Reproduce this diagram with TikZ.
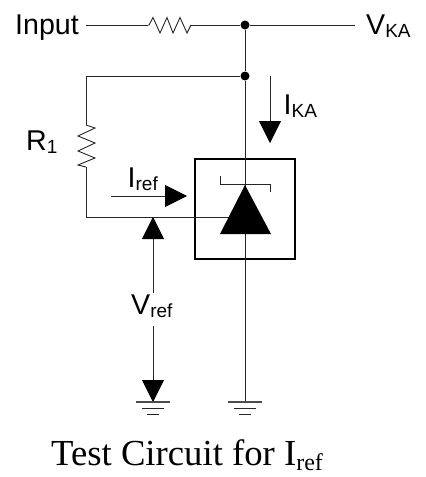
\documentclass[tikz,border=0pt]{standalone}
\usepackage{tikz}
\usepackage{fontspec}
\setmainfont{Liberation Serif}
\setsansfont{Liberation Sans}
\usetikzlibrary{arrows.meta}
\newcommand{\subtxt}[1]{\raisebox{-3.5pt}{\fontsize{19}{19}\selectfont #1}}

\begin{document}
\begin{tikzpicture}[x=1pt,y=-1pt]
        \tikzstyle{wire}=[line width=0.9pt,black!85]
        \tikzstyle{current}=[line width=0.9pt,black!85,-{Triangle[length=22pt,width=22pt,black]}]
        \tikzstyle{junction}=[circle,fill=black,inner sep=0pt,minimum size=9pt]
        \tikzstyle{label}=[inner sep=0pt,anchor=base west,font=\sffamily\fontsize{28.6}{28.6}\selectfont]
        \useasboundingbox (0,0) rectangle (426,477);
        % terminals and labels
        \node[label] (input) at (15,34) {Input};
        \node[label] (vka) at (366,34) {V\subtxt{KA}};
        \node[label] (ika) at (283.5,114) {I\subtxt{KA}};
        \node[label] (rone) at (26,150) {R\subtxt{1}};
        \node[label] (iref) at (127.5,187) {I\subtxt{ref}};
        \node[label] (vref) at (131,314) {V\subtxt{ref}};
        \node[inner sep=0pt,anchor=base west] (title) at (51,465) {\fontsize{36.7}{36.7}\selectfont Test Circuit for I\raisebox{-5pt}{\fontsize{24}{24}\selectfont ref}};
        % junctions
        \node[junction] (top) at (245,25) {};
        \node[junction] (mid) at (245,76) {};
        \coordinate (corner) at (86,76);
        \coordinate (knee) at (86,217.5);
        \coordinate (inputend) at (86,25);
        \coordinate (vkaend) at (355,25);
        \coordinate (rtopleft) at (148,25);
        \coordinate (rtopright) at (191,25);
        \coordinate (roneup) at (86,125);
        \coordinate (ronedown) at (86,167);
        \coordinate (gndleft) at (153,402);
        \coordinate (gndright) at (245,402);
        % regulator
        \node[draw,line width=1.5pt,minimum size=100pt,inner sep=0pt] (reg) at (245,209) {};
        \coordinate (apex) at (245,185);
        \coordinate (baseleft) at (220,234);
        \coordinate (baseright) at (271,234);
        % wires
        \draw[wire] (inputend) -- (rtopleft);
        \draw[wire] (rtopleft) -- (149,25) -- (153,17.5) -- (160,33) -- (167,17.5) -- (173,33) -- (180,17.5) -- (187,33) -- (191,25) -- (rtopright);
        \draw[wire] (rtopright) -- (top) -- (vkaend);
        \draw[wire] (top) -- (mid) -- (gndright);
        \draw[wire] (mid) -- (corner) -- (roneup);
        \draw[wire] (roneup) -- (95,128) -- (78,136) -- (95,143) -- (78,151) -- (95,158) -- (78,165) -- (ronedown);
        \draw[wire] (ronedown) -- (knee) -- (245,217.5);
        \fill[black] (apex) -- (baseleft) -- (baseright) -- cycle;
        \draw[wire] (220,176) -- (220,184) -- (270,184) -- (270,192);
        % current and voltage arrows
        \coordinate (ikafrom) at (270,76);
        \coordinate (ikato) at (270,143);
        \coordinate (ireffrom) at (111,196);
        \coordinate (irefto) at (187,196);
        \coordinate (vrefup) at (153,293);
        \coordinate (vrefuptip) at (153,217);
        \coordinate (vrefdown) at (153,326);
        \draw[current] (ikafrom) -- (ikato);
        \draw[current] (ireffrom) -- (irefto);
        \draw[current] (vrefup) -- (vrefuptip);
        \draw[current] (vrefdown) -- (gndleft);
        % grounds
        \foreach \g in {gndleft,gndright} {
            \draw[line width=1.2pt,black!70] ([xshift=-17pt]\g) -- ([xshift=17pt]\g);
            \draw[wire] ([xshift=-11pt,yshift=-6pt]\g) -- ([xshift=11pt,yshift=-6pt]\g);
            \draw[wire] ([xshift=-6pt,yshift=-12pt]\g) -- ([xshift=6pt,yshift=-12pt]\g);
        }
\end{tikzpicture}
\end{document}
